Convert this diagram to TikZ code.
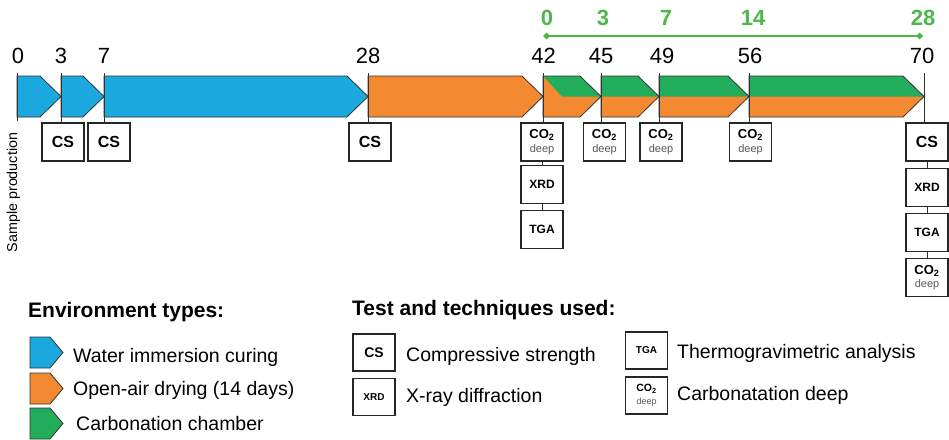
\documentclass[tikz,border=0pt]{standalone}
\usepackage{fontspec}
\setmainfont{Liberation Sans}
\usetikzlibrary{arrows.meta}
\definecolor{WaterBlue}{HTML}{1BA8DF}
\definecolor{AirOrange}{HTML}{F38A32}
\definecolor{ChamberGreen}{HTML}{22AD5C}
\definecolor{DayGreen}{HTML}{4CB848}
\definecolor{EdgeGrey}{HTML}{333333}

\tikzset{
  stage/.style={draw=EdgeGrey, line width=0.8pt, line join=miter},
  tick/.style={draw=EdgeGrey, line width=1pt},
  testbox/.style={draw=black!85, line width=1.5pt, fill=white, minimum width=42pt,
    minimum height=38pt, inner sep=0pt, align=center},
  smalltest/.style={testbox, minimum height=37pt},
  daynum/.style={anchor=base, inner sep=0pt, font=\fontsize{22}{24}\selectfont},
  greennum/.style={anchor=base, inner sep=0pt, text=DayGreen, font=\fontsize{22}{24}\selectfont\bfseries},
  legtitle/.style={anchor=base west, inner sep=0pt, font=\fontsize{21}{24}\selectfont\bfseries},
  legtext/.style={anchor=base west, inner sep=0pt, font=\fontsize{19.5}{22}\selectfont}
}
\newcommand{\cotwo}[3]{{\fontsize{#1}{#1}\selectfont\bfseries CO\textsubscript{2}}\\[#3]{\fontsize{#2}{#2}\selectfont\color{black!65}deep}}

\begin{document}
\begin{tikzpicture}[x=1pt,y=-1pt]
  \useasboundingbox (0,0) rectangle (949,439);

  % green carbonation scale
  \coordinate (gl) at (543,36);
  \coordinate (gr) at (923,36);
  \draw[DayGreen, line width=2.2pt, {Diamond[length=7pt,width=7pt]}-{Diamond[length=7pt,width=7pt]}] (gl) -- (gr);
  \node[greennum] (g0) at (547,25) {0};
  \node[greennum] (g3) at (603,25) {3};
  \node[greennum] (g7) at (666,25) {7};
  \node[greennum] (g14) at (753,25) {14};
  \node[greennum] (g28) at (923,25) {28};

  % days
  \node[daynum] (d0) at (18,63) {0};
  \node[daynum] (d3) at (61,63) {3};
  \node[daynum] (d7) at (104,63) {7};
  \node[daynum] (d28) at (368,63) {28};
  \node[daynum] (d42) at (543.5,63) {42};
  \node[daynum] (d45) at (601,63) {45};
  \node[daynum] (d49) at (662,63) {49};
  \node[daynum] (d56) at (750,63) {56};
  \node[daynum] (d70) at (922,63) {70};

  % water immersion
  \filldraw[stage, fill=WaterBlue] (17,76) -- (40,76) -- (61,96.5) -- (40,117) -- (17,117) -- cycle;
  \filldraw[stage, fill=WaterBlue] (61,76) -- (83,76) -- (104,96.5) -- (83,117) -- (61,117) -- cycle;
  \filldraw[stage, fill=WaterBlue] (104,76) -- (347,76) -- (368,96.5) -- (347,117) -- (104,117) -- cycle;
  % open-air drying
  \filldraw[stage, fill=AirOrange] (368,76) -- (522,76) -- (543,96.5) -- (522,117) -- (368,117) -- cycle;
  % carbonation chamber
  \fill[AirOrange] (543,76) -- (580,76) -- (601,96.5) -- (580,117) -- (543,117) -- cycle;
  \fill[ChamberGreen] (543,76) -- (580,76) -- (601,96.5) -- (562,96.5) -- cycle;
  \draw[stage] (543,76) -- (580,76) -- (601,96.5) -- (580,117) -- (543,117) -- cycle;
  \fill[AirOrange] (601,76) -- (638,76) -- (659,96.5) -- (638,117) -- (601,117) -- cycle;
  \fill[ChamberGreen] (601,76) -- (638,76) -- (659,96.5) -- (601,96.5) -- cycle;
  \draw[stage] (601,76) -- (638,76) -- (659,96.5) -- (638,117) -- (601,117) -- cycle;
  \fill[AirOrange] (659,76) -- (728,76) -- (749,96.5) -- (728,117) -- (659,117) -- cycle;
  \fill[ChamberGreen] (659,76) -- (728,76) -- (749,96.5) -- (659,96.5) -- cycle;
  \draw[stage] (659,76) -- (728,76) -- (749,96.5) -- (728,117) -- (659,117) -- cycle;
  \fill[AirOrange] (749,76) -- (903,76) -- (924,96.5) -- (903,117) -- (749,117) -- cycle;
  \fill[ChamberGreen] (749,76) -- (903,76) -- (924,96.5) -- (749,96.5) -- cycle;
  \draw[stage] (749,76) -- (903,76) -- (924,96.5) -- (903,117) -- (749,117) -- cycle;

  % tests
  \node[testbox, font=\fontsize{16}{16}\selectfont\bfseries] (cs3) at (63,142) {CS};
  \node[testbox, font=\fontsize{16}{16}\selectfont\bfseries] (cs7) at (109,142) {CS};
  \node[testbox, font=\fontsize{16}{16}\selectfont\bfseries] (cs28) at (370,142) {CS};
  \node[testbox] (co42) at (542,142) {\cotwo{13}{11}{1.5pt}};
  \node[testbox, font=\fontsize{12}{12}\selectfont\bfseries] (xrd42) at (542,184.5) {XRD};
  \node[testbox, font=\fontsize{12}{12}\selectfont\bfseries] (tga42) at (542,229.5) {TGA};
  \node[testbox] (co45) at (604.5,142) {\cotwo{13}{11}{1.5pt}};
  \node[testbox] (co49) at (661,142) {\cotwo{13}{11}{1.5pt}};
  \node[testbox] (co56) at (750.5,142) {\cotwo{13}{11}{1.5pt}};
  \node[testbox, font=\fontsize{16}{16}\selectfont\bfseries] (cs70) at (927,142) {CS};
  \node[testbox, font=\fontsize{12}{12}\selectfont\bfseries] (xrd70) at (927,187.5) {XRD};
  \node[testbox, font=\fontsize{12}{12}\selectfont\bfseries] (tga70) at (927,232.5) {TGA};
  \node[testbox] (co70) at (927,277.5) {\cotwo{13}{11}{1.5pt}};

  % day ticks
  \coordinate (t0) at (17,73);
  \coordinate (t0end) at (17,121);
  \draw[tick] (t0) -- (t0end);
  \foreach \d/\xx/\b in {3/61/cs3, 7/104/cs7, 28/368/cs28, 42/543/co42, 45/601/co45,
      49/659/co49, 56/749/co56, 70/924/cs70}{
    \coordinate (t\d) at (\xx,73);
    \draw[tick] (t\d) -- (t\d |- \b.north);
  }
  \draw[tick] (co42) -- (xrd42);
  \draw[tick] (xrd42) -- (tga42);
  \draw[tick] (cs70) -- (xrd70);
  \draw[tick] (xrd70) -- (tga70);
  \draw[tick] (tga70) -- (co70);

  \node[rotate=90, inner sep=0pt, font=\fontsize{14.3}{16}\selectfont] (sample) at (13.5,192.5) {Sample production};

  % legend: environments
  \node[legtitle] (envtitle) at (28,317) {Environment types:};
  \filldraw[stage, fill=WaterBlue] (30,337) -- (50,337) -- (63,352.5) -- (50,368) -- (30,368) -- cycle;
  \filldraw[stage, fill=AirOrange] (30,373) -- (50,373) -- (63,388.5) -- (50,404) -- (30,404) -- cycle;
  \filldraw[stage, fill=ChamberGreen] (30,408) -- (50,408) -- (63,423.5) -- (50,439) -- (30,439) -- cycle;
  \node[legtext] (water) at (73,362) {Water immersion curing};
  \node[legtext] (air) at (73,395) {Open-air drying (14 days)};
  \node[legtext] (chamber) at (76,430) {Carbonation chamber};

  % legend: tests
  \node[legtitle] (testtitle) at (352,315) {Test and techniques used:};
  \node[smalltest, font=\fontsize{14}{14}\selectfont\bfseries] (lcs) at (374,352.5) {CS};
  \node[smalltest, font=\fontsize{10}{10}\selectfont\bfseries] (lxrd) at (374,397) {XRD};
  \node[smalltest, font=\fontsize{10}{10}\selectfont\bfseries] (ltga) at (646.5,350.5) {TGA};
  \node[smalltest] (lco) at (646.5,395.5) {\cotwo{10.5}{9}{1pt}};
  \node[legtext] (lcstext) at (406,361) {Compressive strength};
  \node[legtext] (lxrdtext) at (406,402) {X-ray diffraction};
  \node[legtext] (ltgatext) at (677,358) {Thermogravimetric analysis};
  \node[legtext] (lcotext) at (677,400) {Carbonatation deep};
\end{tikzpicture}
\end{document}
